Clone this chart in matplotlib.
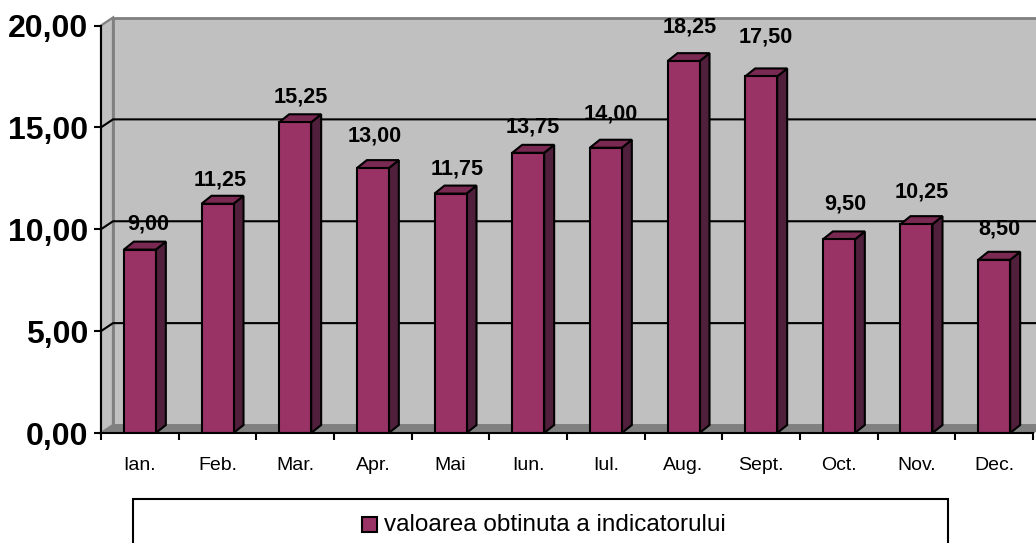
import matplotlib
matplotlib.use("Agg")
import matplotlib.pyplot as plt
from matplotlib.patches import Polygon, Rectangle

months = ["Ian.", "Feb.", "Mar.", "Apr.", "Mai", "Iun.", "Iul.", "Aug.", "Sept.", "Oct.", "Nov.", "Dec."]
values = [9.00, 11.25, 15.25, 13.00, 11.75, 13.75, 14.00, 18.25, 17.50, 9.50, 10.25, 8.50]
y_ticks = [0, 5, 10, 15, 20]
legend_label = "valoarea obtinuta a indicatorului"

# label offsets from the bar's front top centre, in pixels
label_dx = [8, 3, 6, 2, 7, 5, 5, 6, 5, 6, 5, 5]
label_dy = [26, 24, 25, 32, 25, 26, 34, 34, 39, 35, 32, 31]

W, H = 1036, 543
LEFT, RIGHT, TOP, BOTTOM = 101, 1033, 25.5, 433
FONT = "Liberation Sans"
BAR_FACE, BAR_SIDE, BAR_TOP = "#993366", "#4F1F3B", "#7A2952"
WALL, WALL_EDGE = "#C0C0C0", "#808080"


def comma(v):
    return f"{v:.2f}".replace(".", ",")


fig = plt.figure(figsize=(W / 100, H / 100), dpi=100)
ax = fig.add_axes([LEFT / W, 1 - BOTTOM / H, (RIGHT - LEFT) / W, (BOTTOM - TOP) / H])
ax.set_xlim(0, 12)
ax.set_ylim(0, 20)
ax.patch.set_visible(False)

# depth of the 3D look, px converted to data units
px_x = 12 / (RIGHT - LEFT)
px_y = 20 / (BOTTOM - TOP)
wall_dx, wall_dy = 12 * px_x, 8 * px_y
bar_dx, bar_dy = 10 * px_x, 8 * px_y
bar_width = 32 * px_x

# back wall, side wall, floor
ax.add_patch(Rectangle((wall_dx, wall_dy), 12, 20, fc=WALL, ec=WALL_EDGE, lw=2, clip_on=False, zorder=0.5))
ax.add_patch(Polygon([(0, 0), (wall_dx, wall_dy), (wall_dx, 20 + wall_dy), (0, 20)],
                     fc=WALL, ec=WALL_EDGE, lw=1.6, clip_on=False, zorder=0.6))
ax.add_patch(Polygon([(0, 0), (wall_dx, wall_dy), (12 + wall_dx, wall_dy), (12, 0)],
                     fc=WALL_EDGE, ec=WALL_EDGE, lw=1, clip_on=False, zorder=0.7))

# gridlines run along the back wall and come down the side wall
for t in y_ticks[1:-1]:
    ax.plot([0, wall_dx, 12 + wall_dx], [t, t + wall_dy, t + wall_dy], color="black", lw=1.5,
            clip_on=False, zorder=1, solid_joinstyle="miter")

positions = [i + 0.5 for i in range(len(values))]
ax.bar(positions, values, width=bar_width, color=BAR_FACE, edgecolor="black", linewidth=1.5, zorder=3)

for x, v, dx, dy in zip(positions, values, label_dx, label_dy):
    l, r = x - bar_width / 2, x + bar_width / 2
    ax.add_patch(Polygon([(r, 0), (r + bar_dx, bar_dy), (r + bar_dx, v + bar_dy), (r, v)],
                         fc=BAR_SIDE, ec="black", lw=1.5, clip_on=False, zorder=2.8))
    ax.add_patch(Polygon([(l, v), (l + bar_dx, v + bar_dy), (r + bar_dx, v + bar_dy), (r, v)],
                         fc=BAR_TOP, ec="black", lw=1.5, clip_on=False, zorder=2.8))
    ax.annotate(comma(v), (x, v), xytext=(dx, dy), textcoords="offset pixels", ha="center", va="center",
                family=FONT, fontsize=15.6, fontweight="bold", color="black", zorder=5, annotation_clip=False)

for side in ("top", "right"):
    ax.spines[side].set_visible(False)
for side in ("left", "bottom"):
    ax.spines[side].set_linewidth(1.5)
    ax.spines[side].set_zorder(4)

ax.set_yticks(y_ticks)
ax.set_yticklabels([comma(t) for t in y_ticks], family=FONT, fontsize=23, fontweight="bold")
ax.tick_params(axis="y", length=5, width=1.5, pad=4)
ax.set_xticks(range(len(values) + 1))
ax.set_xticklabels([])
ax.tick_params(axis="x", which="major", length=5, width=1.5)
ax.set_xticks(positions, minor=True)
ax.set_xticklabels(months, minor=True, family=FONT, fontsize=14)
ax.tick_params(axis="x", which="minor", length=0, pad=17)

# legend box runs off the bottom of the figure
ax_fig = fig.transFigure
fig.add_artist(Rectangle((133 / W, 1 - 560 / H), 815 / W, 61 / H, transform=ax_fig, fc="white", ec="black", lw=1.5))
fig.add_artist(Rectangle((362 / W, 1 - 532 / H), 15 / W, 15 / H, transform=ax_fig, fc=BAR_FACE, ec="black", lw=1.5))
fig.text(384 / W, 1 - 525 / H, legend_label, family=FONT, fontsize=17.5, va="center", ha="left")

fig.savefig("out.png", dpi=100)
